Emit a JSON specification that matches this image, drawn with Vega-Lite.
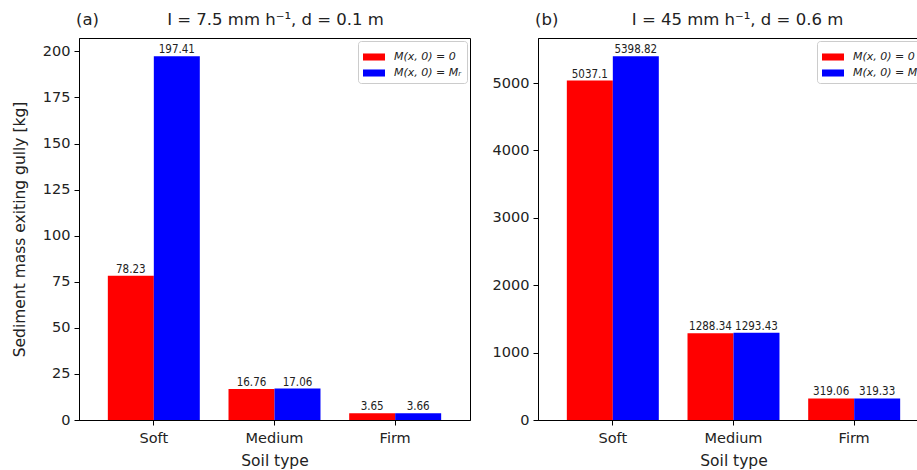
{
  "$schema": "https://vega.github.io/schema/vega-lite/v6.json",
  "padding": {"left": 11, "top": 11, "right": 0, "bottom": 0},
  "background": "white",
  "config": {
    "font": "DejaVu Sans",
    "view": {"stroke": "black", "strokeWidth": 1},
    "axis": {"grid": false, "domainColor": "black", "tickColor": "black", "tickSize": 5, "labelColor": "#222", "labelFontSize": 14.5, "titleFontSize": 15.5, "titleFontWeight": "normal", "titleColor": "#222", "labelFont": "DejaVu Sans", "titleFont": "DejaVu Sans"},
    "title": {"fontSize": 16.5, "fontWeight": "normal", "anchor": "start", "frame": "group", "offset": 10, "color": "#222", "font": "DejaVu Sans"},
    "legend": {"orient": "top-right", "offset": 3, "fillColor": "white", "strokeColor": "#cccccc", "cornerRadius": 3, "padding": 5, "symbolType": "M-1,-0.32H1V0.32H-1Z", "symbolSize": 484, "symbolStrokeWidth": 0, "labelFontSize": 11, "labelFontStyle": "italic", "labelOffset": 9, "rowPadding": 0, "labelColor": "#222", "labelFont": "DejaVu Sans"}
  },
  "datasets": {
    "a": [
      {"soil": "Soft", "case": "M(x, 0) = 0", "value": 78.23},
      {"soil": "Soft", "case": "M(x, 0) = Mᵣ", "value": 197.41},
      {"soil": "Medium", "case": "M(x, 0) = 0", "value": 16.76},
      {"soil": "Medium", "case": "M(x, 0) = Mᵣ", "value": 17.06},
      {"soil": "Firm", "case": "M(x, 0) = 0", "value": 3.65},
      {"soil": "Firm", "case": "M(x, 0) = Mᵣ", "value": 3.66}
    ],
    "b": [
      {"soil": "Soft", "case": "M(x, 0) = 0", "value": 5037.1},
      {"soil": "Soft", "case": "M(x, 0) = Mᵣ", "value": 5398.82},
      {"soil": "Medium", "case": "M(x, 0) = 0", "value": 1288.34},
      {"soil": "Medium", "case": "M(x, 0) = Mᵣ", "value": 1293.43},
      {"soil": "Firm", "case": "M(x, 0) = 0", "value": 319.06},
      {"soil": "Firm", "case": "M(x, 0) = Mᵣ", "value": 319.33}
    ]
  },
  "spacing": 20,
  "hconcat": [
    {
      "width": 391,
      "height": 382,
      "title": {"text": "(a)\u00a0\u00a0\u00a0\u00a0\u00a0\u00a0\u00a0\u00a0\u00a0\u00a0\u00a0\u00a0\u00a0I = 7.5 mm h⁻¹, d = 0.1 m", "dx": -3},
      "data": {"name": "a"},
      "encoding": {
        "x": {"field": "soil", "type": "nominal", "sort": ["Soft", "Medium", "Firm"], "scale": {"paddingInner": 0, "paddingOuter": 0.12}, "axis": {"title": "Soil type", "labelAngle": 0, "labelPadding": 6, "titlePadding": 9}},
        "xOffset": {"field": "case", "type": "nominal", "sort": ["M(x, 0) = 0", "M(x, 0) = Mᵣ"], "scale": {"paddingInner": 0, "paddingOuter": 0.312}},
        "y": {"field": "value", "type": "quantitative", "scale": {"domain": [0, 207.28], "nice": false}, "axis": {"values": [0, 25, 50, 75, 100, 125, 150, 175, 200], "title": "Sediment mass exiting gully [kg]", "labelPadding": 4, "titlePadding": 15}}
      },
      "layer": [
        {"mark": {"type": "bar"}, "encoding": {"color": {"field": "case", "type": "nominal", "title": null, "scale": {"domain": ["M(x, 0) = 0", "M(x, 0) = Mᵣ"], "range": ["#ff0000", "#0000ff"]}}}},
        {"mark": {"type": "text", "baseline": "bottom", "dy": -1, "fontSize": 11.5, "font": "DejaVu Sans Condensed", "color": "#222"}, "encoding": {"text": {"field": "value", "type": "nominal"}}}
      ]
    },
    {
      "width": 391,
      "height": 382,
      "title": {"text": "(b)\u00a0\u00a0\u00a0\u00a0\u00a0\u00a0\u00a0\u00a0\u00a0\u00a0\u00a0\u00a0\u00a0\u00a0I = 45 mm h⁻¹, d = 0.6 m", "dx": -3},
      "data": {"name": "b"},
      "encoding": {
        "x": {"field": "soil", "type": "nominal", "sort": ["Soft", "Medium", "Firm"], "scale": {"paddingInner": 0, "paddingOuter": 0.12}, "axis": {"title": "Soil type", "labelAngle": 0, "labelPadding": 6, "titlePadding": 9}},
        "xOffset": {"field": "case", "type": "nominal", "sort": ["M(x, 0) = 0", "M(x, 0) = Mᵣ"], "scale": {"paddingInner": 0, "paddingOuter": 0.312}},
        "y": {"field": "value", "type": "quantitative", "scale": {"domain": [0, 5668.76], "nice": false}, "axis": {"values": [0, 1000, 2000, 3000, 4000, 5000], "format": "d", "title": null, "labelPadding": 4}}
      },
      "layer": [
        {"mark": {"type": "bar"}, "encoding": {"color": {"field": "case", "type": "nominal", "title": null, "scale": {"domain": ["M(x, 0) = 0", "M(x, 0) = Mᵣ"], "range": ["#ff0000", "#0000ff"]}}}},
        {"mark": {"type": "text", "baseline": "bottom", "dy": -1, "fontSize": 11.5, "font": "DejaVu Sans Condensed", "color": "#222"}, "encoding": {"text": {"field": "value", "type": "nominal"}}}
      ]
    }
  ],
  "resolve": {"scale": {"color": "independent"}}
}
